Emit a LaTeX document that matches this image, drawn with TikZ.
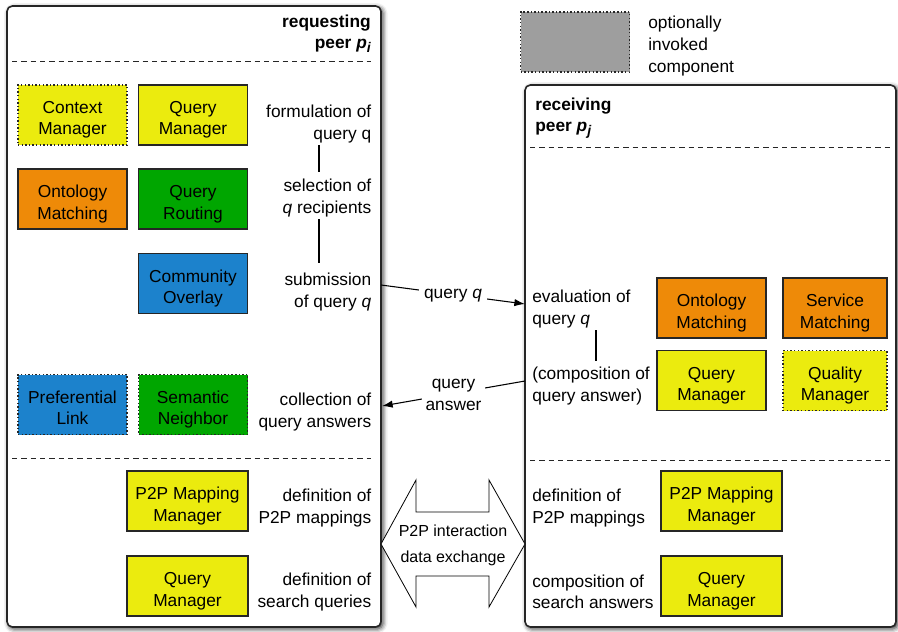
\documentclass[tikz,border=0pt]{standalone}
\usepackage{fontspec}
\setmainfont{Liberation Sans}
\usetikzlibrary{fit,shadows.blur,arrows.meta}
\definecolor{cyellow}{RGB}{235,235,14}
\definecolor{corange}{RGB}{238,138,8}
\definecolor{cgreen}{RGB}{0,166,0}
\definecolor{cblue}{RGB}{28,130,204}
\definecolor{cgray}{RGB}{158,158,158}
\newcommand{\peersub}[1]{\raisebox{-3pt}{\fontsize{10.5}{10}\selectfont\bfseries\itshape #1}}
% two-line component caption, lowered slightly inside its box
\newcommand{\twoline}[2]{\raisebox{-3.8pt}[\height][\depth]{\begin{tabular}{@{}c@{}}#1\\#2\end{tabular}}}
\tikzset{
  txt/.style={font=\fontsize{13}{16}\selectfont},
  panel/.style={draw=black!85, line width=1.2pt, rounded corners=4pt, fill=white, inner sep=0pt,
    blur shadow={shadow xshift=1.4pt, shadow yshift=-1.4pt, shadow blur radius=3.5pt, shadow opacity=85}},
  sepline/.style={draw=black!85, line width=0.7pt, dash pattern=on 4pt off 3pt},
  box/.style={txt, draw=black!85, line width=0.9pt, minimum width=81.75pt, minimum height=45pt,
    inner sep=0pt},
  wide/.style={minimum width=90.75pt},
  narrow/.style={minimum width=78pt},
  opt/.style={dash pattern=on 1.1pt off 1.6pt},
  lblr/.style={txt, align=right, inner sep=1.5pt, anchor=east},
  lbll/.style={txt, align=left, inner sep=1.5pt, anchor=west},
  vline/.style={draw=black, line width=1.3pt},
  arr/.style={draw=black, line width=0.8pt, -{Latex[length=8pt,width=5.5pt]}},
  ttl/.style={txt, font=\fontsize{13}{16}\selectfont\bfseries, inner sep=0pt}
}
\begin{document}
\begin{tikzpicture}[x=0.75pt,y=-0.75pt]
\useasboundingbox (0,0) rectangle (898,631);

% the two peers
\node[panel, fit={(7,6) (381,627)}] (req) {};
\node[panel, fit={(525,85) (896,627)}] (rec) {};

% section separators
\draw[sepline] (12,61) -- (371,61);
\draw[sepline] (12,458) -- (371,458);
\draw[sepline] (530,147) -- (890,147);
\draw[sepline] (530,460) -- (890,460);

% peer titles
\node[ttl, anchor=east, align=right] (reqtitle) at (371,34)
  {requesting\\peer \textit{p}\peersub{i}};
\node[ttl, anchor=west, align=left] (rectitle) at (535,118)
  {receiving\\peer \textit{p}\peersub{j}};

% legend
\node[box, fill=cgray, opt] (legbox) at (575,42) {};
\node[lbll, font=\fontsize{13}{16.5}\selectfont] (legtext) at (646,46) {optionally\\invoked\\component};

% components of the requesting peer
\node[box, fill=cyellow, opt] (ctx) at (72.5,115) {\twoline{Context}{Manager}};
\node[box, fill=cyellow] (qm1) at (193,115) {\twoline{Query}{Manager}};
\node[box, fill=corange] (om1) at (72.5,199) {\twoline{Ontology}{Matching}};
\node[box, fill=cgreen] (qr) at (193,199) {\twoline{Query}{Routing}};
\node[box, fill=cblue] (co) at (193,283.5) {\twoline{Community}{Overlay}};
\node[box, fill=cblue, opt] (pl) at (72.5,404.5) {\twoline{Preferential}{Link}};
\node[box, fill=cgreen, opt] (sn) at (193,404.5) {\twoline{Semantic}{Neighbor}};
\node[box, wide, fill=cyellow] (p2p1) at (187.5,501) {\twoline{P2P Mapping}{Manager}};
\node[box, wide, fill=cyellow] (qm2) at (187.5,586) {\twoline{Query}{Manager}};

% components of the receiving peer
\node[box, fill=corange] (om2) at (711.5,308) {\twoline{Ontology}{Matching}};
\node[box, narrow, fill=corange] (sm) at (835,308) {\twoline{Service}{Matching}};
\node[box, fill=cyellow] (qm3) at (711.5,380.5) {\twoline{Query}{Manager}};
\node[box, narrow, fill=cyellow, opt] (qual) at (835,380.5) {\twoline{Quality}{Manager}};
\node[box, wide, fill=cyellow] (p2p2) at (721.5,501) {\twoline{P2P Mapping}{Manager}};
\node[box, wide, fill=cyellow] (qm4) at (721.5,586) {\twoline{Query}{Manager}};

% activity labels, requesting peer
\node[lblr] (form) at (373.5,124) {formulation of\\query q};
\node[lblr] (sel) at (373.5,198) {selection of\\\textit{q} recipients};
\node[lblr] (sub) at (373.5,292) {submission\\of query \textit{q}};
\node[lblr] (col) at (373.5,412) {collection of\\query answers};
\node[lblr] (def1) at (373.5,508) {definition of\\P2P mappings};
\node[lblr] (def2) at (373.5,592) {definition of\\search queries};

% activity labels, receiving peer
\node[lbll] (eval) at (530,309) {evaluation of\\query \textit{q}};
\node[lbll] (comp) at (530,386) {(composition of\\query answer)};
\node[lbll] (def3) at (530,508) {definition of\\P2P mappings};
\node[lbll] (comp2) at (530,592) {composition of\\search answers};

% sequence of activities
\coordinate (vl) at (319,0);
\coordinate (vr) at (596,0);
\draw[vline, shorten <=0pt, shorten >=4pt] (form.south -| vl) -- (sel.north -| vl);
\draw[vline, shorten <=0pt, shorten >=6pt] (sel.south -| vl) -- (sub.north -| vl);
\draw[vline, shorten <=0pt, shorten >=3pt] (eval.south -| vr) -- (comp.north -| vr);

% query and answer messages
\coordinate (qout) at (381,285);
\coordinate (qin) at (525,304);
\draw[arr] (qout) -- node[txt, midway, fill=white, inner sep=4pt, yshift=-1pt, name=qq] {query \textit{q}} (qin);
\coordinate (aout) at (525,381);
\coordinate (ain) at (382,406);
\draw[arr] (aout) -- node[txt, midway, fill=white, inner sep=3pt, yshift=-1pt, align=center, name=qa] {query\\answer} (ain);

% P2P exchange double arrow
\draw[fill=white, line width=0.6pt, line join=miter]
  (381,544) -- (416,480) -- (416,512) -- (489,512) -- (489,480) -- (525,544)
  -- (489,607) -- (489,576) -- (416,576) -- (416,607) -- cycle;
\node[font=\fontsize{12}{19.5}\selectfont, align=center] (xchg) at (453,545) {P2P interaction\\data exchange};
\end{tikzpicture}
\end{document}
